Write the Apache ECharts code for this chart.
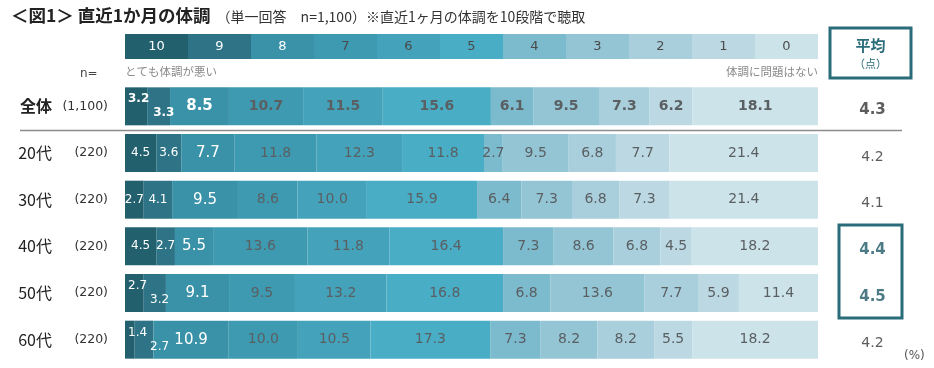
<!DOCTYPE html>
<html>
<head>
<meta charset="utf-8">
<script src="https://cdn.jsdelivr.net/npm/echarts@6/dist/echarts.min.js"></script>
<style>html,body{margin:0;padding:0;background:#fff;}#c{width:934px;height:368px;}</style>
</head>
<body>
<div id="c"></div>
<script>
// ---- data ----
const categories = ['全体', '20代', '30代', '40代', '50代', '60代'];
const sampleSizes = ['1,100', '220', '220', '220', '220', '220'];
const levels = ['10', '9', '8', '7', '6', '5', '4', '3', '2', '1', '0'];
const rowAll = [3.2, 3.3, 8.5, 10.7, 11.5, 15.6, 6.1, 9.5, 7.3, 6.2, 18.1];
const row20s = [4.5, 3.6, 7.7, 11.8, 12.3, 11.8, 2.7, 9.5, 6.8, 7.7, 21.4];
const row30s = [2.7, 4.1, 9.5, 8.6, 10.0, 15.9, 6.4, 7.3, 6.8, 7.3, 21.4];
const row40s = [4.5, 2.7, 5.5, 13.6, 11.8, 16.4, 7.3, 8.6, 6.8, 4.5, 18.2];
const row50s = [2.7, 3.2, 9.1, 9.5, 13.2, 16.8, 6.8, 13.6, 7.7, 5.9, 11.4];
const row60s = [1.4, 2.7, 10.9, 10.0, 10.5, 17.3, 7.3, 8.2, 8.2, 5.5, 18.2];
const averages = [4.3, 4.2, 4.1, 4.4, 4.5, 4.2];

// ---- styles ----
const rows = [rowAll, row20s, row30s, row40s, row50s, row60s];
const colors = ['#23606e', '#2e7486', '#3a92a8', '#3e9ab1', '#44a3ba', '#49adc6',
                '#7cbacd', '#93c5d5', '#a9cfdc', '#bcd9e3', '#cde3ea'];
const NUM = "'DejaVu Sans', 'Noto Sans CJK JP', sans-serif";
const JP = "'Noto Sans CJK JP', 'DejaVu Sans', sans-serif";
const GRID_LEFT = 125, GRID_W = 693;
const TEAL = '#2b6c7a';

const series = [];
levels.forEach((lv, i) => {
  // header bar
  series.push({
    type: 'bar', stack: 'h', xAxisIndex: 1, yAxisIndex: 1, barWidth: 25,
    itemStyle: { color: colors[i] }, silent: true,
    label: { show: true, formatter: lv, color: i < 3 ? '#ffffff' : '#4a4a4a',
             fontSize: 13, fontFamily: NUM },
    data: [1]
  });
  // data bars
  series.push({
    type: 'bar', stack: 'd', xAxisIndex: 0, yAxisIndex: 0, barWidth: 38,
    itemStyle: { color: colors[i] }, silent: true,
    data: rows.map((r, k) => {
      const sum = r.reduce((a, b) => a + b, 0);
      const bold = k === 0;
      const lab = {
        show: true,
        formatter: r[i].toFixed(1),
        color: i < 3 ? '#ffffff' : '#5a5f62',
        fontWeight: bold ? 'bold' : 'normal',
        fontSize: i < 2 ? 12 : (i === 2 ? 15 : 14),
        fontFamily: NUM
      };
      const stagger = r[0] < 3.5 && r[1] < 3.5;
      if (stagger && i === 0) {
        Object.assign(lab, { position: [3, 12], align: 'left', verticalAlign: 'middle' });
      } else if (stagger && i === 1) {
        const startPx = r[0] / sum * GRID_W;
        const off = Math.max(6, 25 - startPx);
        Object.assign(lab, { position: [off, 26], align: 'left', verticalAlign: 'middle' });
      }
      return { value: r[i] / sum * 100, label: lab };
    })
  });
});

series.push({
  type: 'scatter', xAxisIndex: 2, yAxisIndex: 2, symbolSize: 1, silent: true,
  itemStyle: { color: 'rgba(0,0,0,0)' },
  data: averages.map((v, k) => {
    const bold = k === 0 || k === 3 || k === 4;
    return {
      value: [0.5, k],
      label: {
        show: true, position: 'inside', offset: [0, 4],
        formatter: v.toFixed(1),
        fontFamily: NUM,
        fontSize: bold ? 15 : 14,
        fontWeight: bold ? 'bold' : 'normal',
        color: (k === 3 || k === 4) ? '#1f5a68' : '#333333'
      }
    };
  })
});

const chart = echarts.init(document.getElementById('c'), null, { renderer: 'canvas' });
chart.setOption({
  animation: false,
  backgroundColor: '#ffffff',
  title: {
    left: 6, top: 2,
    text: '{a|＜図1＞ 直近1か月の体調}{b|（単一回答　n=1,100）※直近1ヶ月の体調を10段階で聴取}',
    textStyle: {
      fontWeight: 'normal',
      rich: {
        a: { fontFamily: JP, fontSize: 17.5, fontWeight: 'bold', color: '#222' },
        b: { fontFamily: JP, fontSize: 14, fontWeight: 'normal', color: '#333', padding: [2, 0, 0, 6] }
      }
    }
  },
  grid: [
    { left: GRID_LEFT, width: GRID_W, top: 83, height: 280 },
    { left: GRID_LEFT, width: GRID_W, top: 34, height: 25 },
    { left: 835, width: 75, top: 83, height: 280 }
  ],
  xAxis: [
    { type: 'value', gridIndex: 0, min: 0, max: 100, show: false },
    { type: 'value', gridIndex: 1, min: 0, max: levels.length, show: false },
    { type: 'value', gridIndex: 2, min: 0, max: 1, show: false }
  ],
  yAxis: [
    {
      type: 'category', gridIndex: 0, inverse: true, data: categories,
      axisLine: { show: false }, axisTick: { show: false }, splitLine: { show: false },
      axisLabel: {
        margin: 17,
        formatter: (v, idx) => `{${idx === 0 ? 'ab' : 'a'}|${v}}{b|(${sampleSizes[idx]})}`,
        rich: {
          a: { width: 34, align: 'right', fontFamily: JP, fontSize: 16, color: '#222' },
          ab: { width: 34, align: 'right', fontFamily: JP, fontSize: 16, fontWeight: 'bold', color: '#222' },
          b: { width: 56, align: 'right', fontFamily: NUM, fontSize: 12.5, color: '#333' }
        }
      }
    },
    { type: 'category', gridIndex: 1, data: ['h'], show: false },
    { type: 'category', gridIndex: 2, inverse: true, data: categories, show: false }
  ],
  series: series,
  graphic: [
    { type: 'line', shape: { x1: 20, y1: 130.5, x2: 902, y2: 130.5 },
      style: { stroke: '#8c8c8c', lineWidth: 1.5 }, silent: true },
    { type: 'text', left: 80, top: 68, style: { text: 'n=', fontFamily: NUM, fontSize: 12, fill: '#444' } },
    { type: 'text', left: 125, top: 66, style: { text: 'とても体調が悪い', fontFamily: JP, fontSize: 11.5, fill: '#8a8a8a' } },
    { type: 'text', right: 116, top: 66, style: { text: '体調に問題はない', fontFamily: JP, fontSize: 11.5, fill: '#8a8a8a', align: 'right' } },
    { type: 'rect', shape: { x: 830, y: 28, width: 81, height: 50 },
      style: { fill: 'none', stroke: TEAL, lineWidth: 3 }, silent: true },
    { type: 'text', x: 870.5, y: 45, style: { text: '平均', fontFamily: JP, fontSize: 15, fontWeight: 'bold', fill: TEAL, align: 'center', verticalAlign: 'middle' } },
    { type: 'text', x: 870.5, y: 64, style: { text: '（点）', fontFamily: JP, fontSize: 11, fill: TEAL, align: 'center', verticalAlign: 'middle' } },
    { type: 'rect', shape: { x: 839, y: 225, width: 63, height: 93 },
      style: { fill: 'none', stroke: TEAL, lineWidth: 3 }, silent: true },
    { type: 'text', left: 904, top: 350, style: { text: '(%)', fontFamily: NUM, fontSize: 12, fill: '#555' } }
  ]
});
</script>
</body>
</html>
